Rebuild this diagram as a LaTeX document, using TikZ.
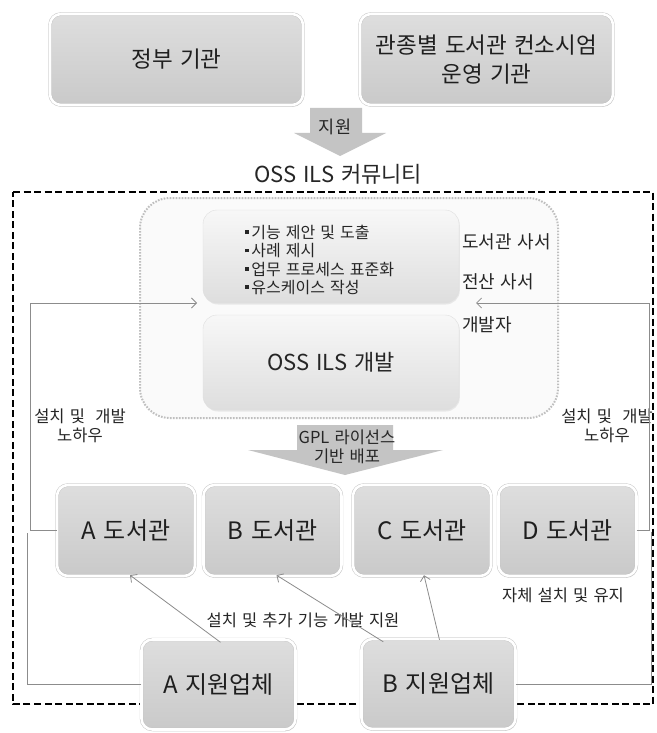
\documentclass[tikz,border=0pt]{standalone}
\usepackage{fontspec}
\setmainfont{Noto Sans CJK KR}[WordSpace={1.4,0.4,0.2}]
\usetikzlibrary{arrows.meta,shadows,calc}
\definecolor{arrowgray}{HTML}{C4C4C4}
\definecolor{linegray}{HTML}{8C8C8C}
\begin{document}
\begin{tikzpicture}[x=1pt,y=-1pt,
  bigbox/.style={rounded corners=11pt, draw=gray!50, double=white, double distance=2.6pt,
     top color=gray!26, bottom color=gray!42, inner sep=0pt, text=black!88,
     drop shadow={opacity=0.25, shadow xshift=1pt, shadow yshift=-1.8pt}},
  topbox/.style={bigbox, minimum width=253pt, minimum height=91pt, align=center,
     font=\fontsize{22.5}{29}\selectfont},
  libbox/.style={bigbox, minimum width=138pt, minimum height=91pt,
     font=\fontsize{24}{28}\selectfont},
  supbox/.style={bigbox, minimum width=154pt, minimum height=90pt,
     font=\fontsize{24}{28}\selectfont},
  innerbox/.style={rounded corners=14pt, draw=gray!25, top color=gray!6, bottom color=gray!26,
     minimum width=256pt, inner sep=0pt,
     drop shadow={opacity=0.15, shadow xshift=0.8pt, shadow yshift=-1.5pt}},
  lbl/.style={inner sep=0pt, text=black!85, font=\fontsize{16.5}{19}\selectfont, align=center},
  role/.style={inner sep=0pt, anchor=west, text=black!85, font=\fontsize{18}{21}\selectfont},
  conn/.style={draw=linegray, line width=0.8pt},
  tip/.style={-{Straight Barb[length=5pt,width=10pt,line width=0.8pt]}},
  bigarrow/.style={fill=arrowgray, draw=none}
]
\useasboundingbox (0,0) rectangle (656,733);
\fill[white] (0,0) rectangle (656,733);

% top boxes
\node[topbox] (gov) at (176.5,59.5) {정부 기관};
\node[topbox] (cons) at (486.5,59.5) {관종별 도서관 컨소시엄\\운영 기관};

% support arrow
\fill[bigarrow] (310,108) -- (362,108) -- (362,133) -- (386,133) -- (340,156)
   -- (294,133) -- (310,133) -- cycle;
\node[lbl, font=\fontsize{17.5}{20}\selectfont] (jiwon) at (335,127) {지원};

\node[inner sep=0pt, font=\fontsize{22}{26}\selectfont, text=black!85] (comm) at (338,174) {OSS ILS 커뮤니티};

% community frame
\draw[line width=1.7pt, dash pattern=on 7pt off 3.5pt] (13,192) -- (653,192) -- (653,704) -- (13,704) -- cycle;

% dotted container
\draw[fill=gray!4, draw=gray!50, line width=2pt, dash pattern=on 1.6pt off 1.4pt, rounded corners=30pt]
   (140,198) rectangle (558,418);

% inner boxes
\node[innerbox, minimum height=93pt] (feat) at (331,256.5) {};
\node[lbl, anchor=west, align=left, font=\fontsize{16}{18.3}\selectfont] (feattext) at (245,260)
  {\raisebox{0.28em}{\rule{3.6pt}{3.6pt}}\,기능 제안 및 도출\\
   \raisebox{0.28em}{\rule{3.6pt}{3.6pt}}\,사례 제시\\
   \raisebox{0.28em}{\rule{3.6pt}{3.6pt}}\,업무 프로세스 표준화\\
   \raisebox{0.28em}{\rule{3.6pt}{3.6pt}}\,유스케이스 작성};
\node[innerbox, minimum height=95pt, font=\fontsize{22}{26}\selectfont, text=black!85] (dev) at (331,362.5) {OSS ILS 개발};

\node[role] (r1) at (462,242) {도서관 사서};
\node[role] (r2) at (462,282) {전산 사서};
\node[role] (r3) at (462,325) {개발자};

% know-how labels
\node[lbl] (kl) at (80,426) {설치 및 ~개발\\노하우};
\node[lbl] (kr) at (607,426) {설치 및 ~개발\\노하우};

% GPL arrow
\fill[bigarrow] (297,425) -- (393,425) -- (393,450) -- (443,450) -- (345,475)
   -- (248,450) -- (297,450) -- cycle;
\node[lbl, font=\fontsize{16.5}{19.5}\selectfont] (gpl) at (347,447) {GPL 라이선스\\기반 배포};

% libraries
\node[libbox] (libA) at (126,530.5) {A 도서관};
\node[libbox] (libB) at (272.5,530.5) {B 도서관};
\node[libbox] (libC) at (422,530.5) {C 도서관};
\node[libbox] (libD) at (567.5,530.5) {D 도서관};

\node[lbl] (self) at (563,595) {자체 설치 및 유지};
\node[lbl] (inst) at (303,620) {설치 및 추가 기능 개발 지원};

% suppliers
\node[supbox] (supA) at (218.5,684.5) {A 지원업체};
\node[supbox] (supB) at (438.5,684) {B 지원업체};

% coordinates
\coordinate (kL) at (30,303);
\coordinate (tL) at (197,303);
\coordinate (kR) at (649,303);
\coordinate (tR) at (476,303);
\coordinate (bL) at (27,533);
\coordinate (bR) at (651,532);

% connectors
\draw[conn, tip] (libA.west) -| (kL) -- (tL);
\draw[conn, tip] (libD.east) -| (kR) -- (tR);
\draw[conn] (supA.west) -| (bL);
\draw[conn] (supB.east) -| (bR);
\draw[conn, tip] ($(supA.north)+(2,3)$) -- ($(libA.south)+(4,-1)$);
\draw[conn, tip] ($(supB.north west)+(22,3)$) -- ($(libB.south)+(4,-1)$);
\draw[conn, tip] ($(supB.north)+(1,1)$) -- ($(libC.south)+(2,-1)$);
\end{tikzpicture}
\end{document}
